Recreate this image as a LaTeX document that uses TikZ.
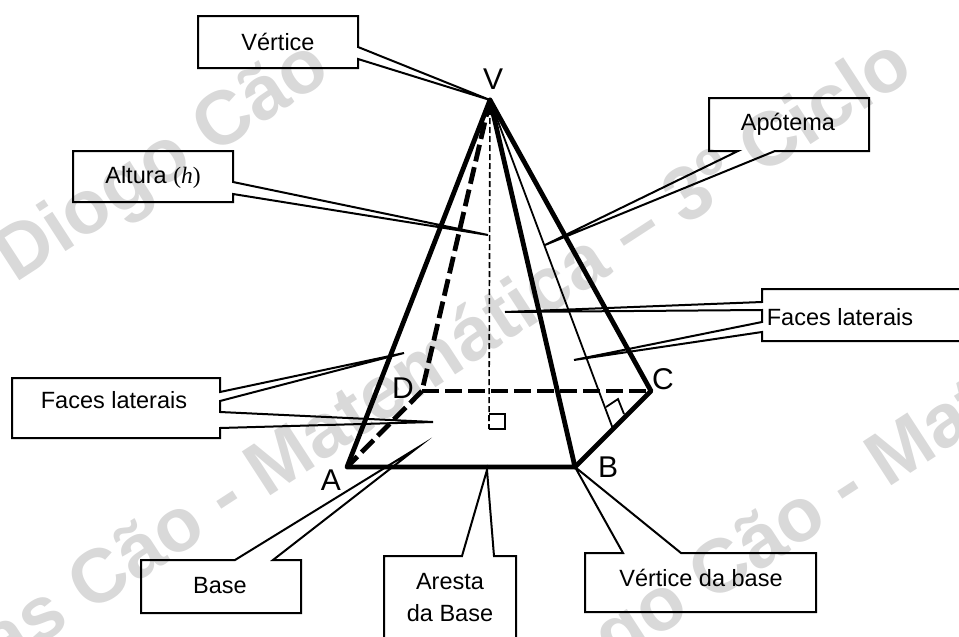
\documentclass[tikz,border=0pt]{standalone}
\usepackage{fontspec}
\setmainfont{Liberation Sans}
\newfontfamily\serifh{Liberation Serif}
\definecolor{wm}{HTML}{D9D9D9}
\tikzset{
  outline/.style={draw=black,line width=2pt,line join=miter,miter limit=20},
  label/.style={inner sep=0pt,text=black,font=\fontsize{23.5}{32}\selectfont,align=center},
  vertexlabel/.style={inner sep=0pt,text=black,font=\fontsize{30}{32}\selectfont},
  edgesolid/.style={draw=black,line width=4.8pt,line cap=round,line join=round},
  edgedash/.style={draw=black,line width=4.8pt,dash pattern=on 17pt off 6pt},
  thinline/.style={draw=black,line width=1.8pt},
  thindash/.style={draw=black,line width=1.6pt,dash pattern=on 6pt off 3pt},
  watermark/.style={inner sep=0pt,anchor=base west,rotate=33,text=wm,font=\bfseries\fontsize{76}{80}\selectfont}
}
\begin{document}
\begin{tikzpicture}[x=1pt,y=-1pt]
\useasboundingbox (0,0) rectangle (959,637);
% watermark
\node[watermark] (wma) at (15,284) {Diogo Cão};
\node[watermark] (wmb) at (-63,712) {Dias Cão - Matemática – 3º Ciclo};
\node[watermark] (wmc) at (512,732) {Diogo Cão - Matemática};
% vertices
\coordinate (V) at (490,100);
\coordinate (A) at (347,467);
\coordinate (B) at (575,467);
\coordinate (C) at (651,391);
\coordinate (D) at (422,391);
\coordinate (M) at (613,429);
\coordinate (H) at (489,429);
% thin interior lines
\draw[thindash] (V) -- (H);
\draw[thinline] (V) -- (M);
\draw[thinline] (489,414) -- (505,414) -- (505,429) -- (H);
\draw[thinline] (606,407) -- (618,399) -- (624,414);
% pyramid edges
\draw[edgedash] (V) -- (D);
\draw[edgedash] (D) -- (C);
\draw[edgedash] (D) -- (A);
\draw[edgesolid] (V) -- (A) -- (B) -- (V);
\draw[edgesolid] (V) -- (C) -- (B);
% callouts
\draw[outline] (358,47) -- (358,16) -- (198,16) -- (198,68) -- (358,68) -- (358,59) -- (V) -- cycle;
\draw[outline] (233,182) -- (233,151) -- (73,151) -- (73,202) -- (233,202) -- (233,194) -- (488,235) -- cycle;
\draw[outline] (738,151) -- (709,151) -- (709,98) -- (869,98) -- (869,151) -- (775,151) -- (545,245) -- cycle;
\draw[outline] (970,289) -- (762,289) -- (762,302) -- (505,312) -- (762,310) -- (762,322) -- (574,360) -- (762,332) -- (762,341) -- (970,341);
\draw[outline] (220,392) -- (220,378) -- (12,378) -- (12,438) -- (220,438) -- (220,428) -- (433,422) -- (220,412) -- (220,401) -- (404,353) -- cycle;
\draw[outline] (235,560) -- (141,560) -- (141,613) -- (301,613) -- (301,560) -- (273,560) -- (417,448) -- cycle;
\draw[outline] (384,650) -- (384,556) -- (462,556) -- (487,470) -- (494,556) -- (516,556) -- (516,650);
\draw[outline] (623,553) -- (585,553) -- (585,612) -- (816,612) -- (816,553) -- (681,553) -- (B) -- cycle;
% box texts
\node[label] (tvertice) at (278,42) {Vértice};
\node[label] (taltura) at (153,177) {Altura {\serifh(\textit{h})}};
\node[label] (tapotema) at (788,124) {Apótema};
\node[label] (tfacesr) at (840,317) {Faces laterais};
\node[label] (tfacesl) at (114,400) {Faces laterais};
\node[label] (tbase) at (220,586) {Base};
\node[label] (taresta) at (450,598) {Aresta\\da Base};
\node[label] (tvbase) at (701,578) {Vértice da base};
% vertex labels
\node[vertexlabel] (lV) at (493,79) {V};
\node[vertexlabel] (lA) at (331,480) {A};
\node[vertexlabel] (lB) at (608,467) {B};
\node[vertexlabel] (lC) at (663,379) {C};
\node[vertexlabel] (lD) at (403,388) {D};
\end{tikzpicture}
\end{document}
